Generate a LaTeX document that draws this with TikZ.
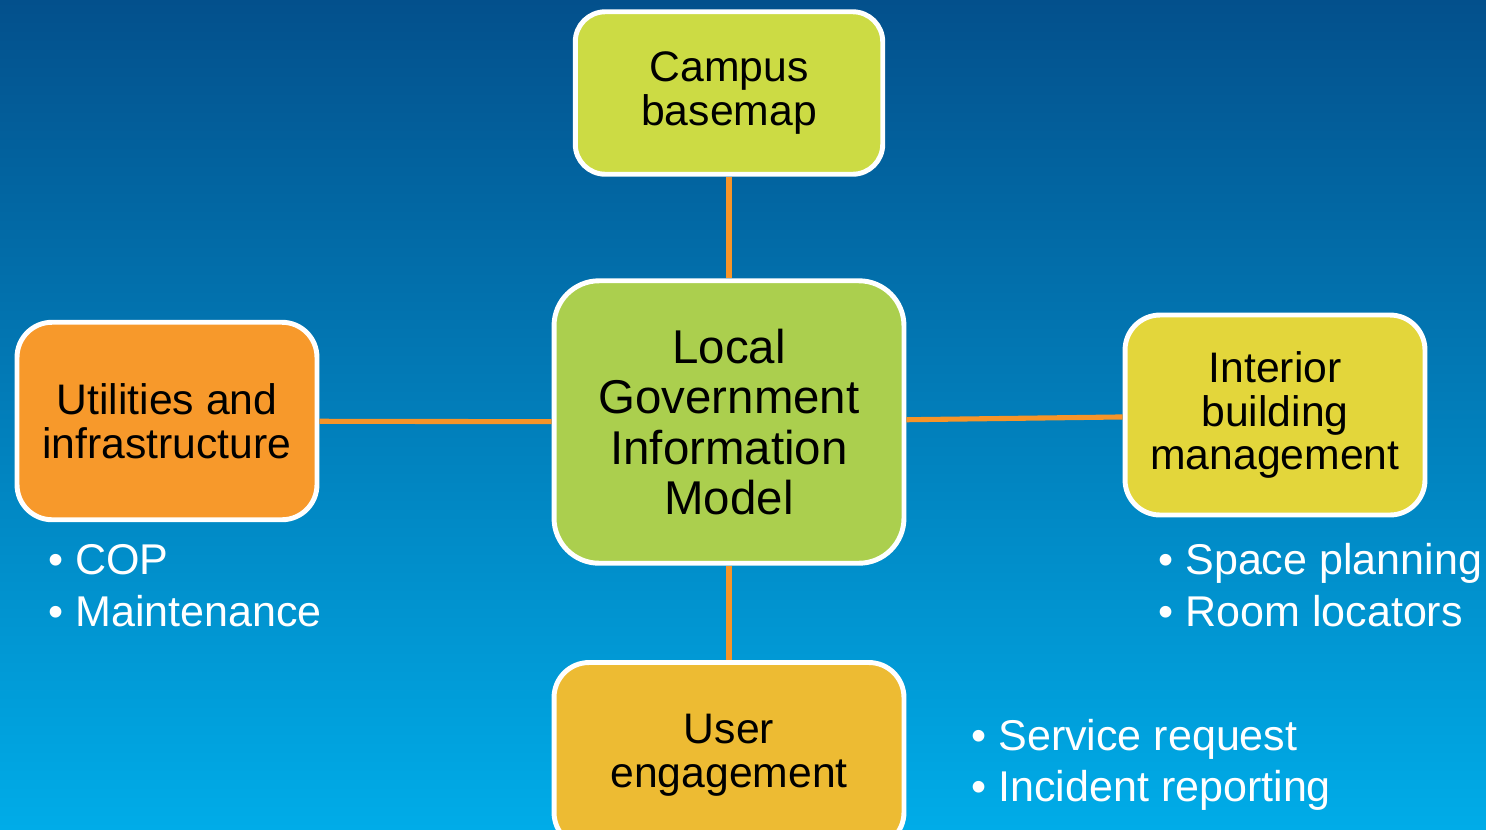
\documentclass[tikz,border=0pt]{standalone}
\usepackage{fontspec}
\setmainfont{Liberation Sans}
\definecolor{bgtop}{RGB}{3,80,140}
\definecolor{bgbot}{RGB}{0,172,232}
\definecolor{linkorange}{RGB}{247,148,40}
\definecolor{campusfill}{RGB}{204,219,68}
\definecolor{lgimfill}{RGB}{171,207,78}
\definecolor{utilfill}{RGB}{247,153,43}
\definecolor{ibmfill}{RGB}{227,214,59}
\definecolor{userfill}{RGB}{237,187,51}
\tikzset{
	box/.style={draw=white, line width=2.8pt, rounded corners=0.6cm, align=center, text=black,
		font=\fontsize{24.3}{25}\selectfont, inner sep=0pt},
	link/.style={draw=linkorange, line width=2.9pt},
	bullet/.style={anchor=base west, text=white, inner sep=0pt, font=\fontsize{24.5}{29.5}\selectfont}
}
\begin{document}
\begin{tikzpicture}[x=0.02cm,y=-0.02cm]
				\useasboundingbox (0,0) rectangle (1486,829);
				\clip (0,0) rectangle (1486,829);
				\shade [top color=bgtop, bottom color=bgbot] (0,0) rectangle (1486,829);
				% boxes
				\node [box, fill=campusfill, minimum width=6.15cm, minimum height=3.25cm] (campus) at (729,93) {Campus\\basemap};
				\node [box, fill=lgimfill, minimum width=7.0cm, minimum height=5.65cm, rounded corners=0.9cm,
					font=\fontsize{27}{28.5}\selectfont] (lgim) at (729,422) {Local\\Government\\Information\\Model};
				\node [box, fill=utilfill, minimum width=6.0cm, minimum height=3.95cm, rounded corners=0.7cm] (util) at (167,421) {Utilities and\\infrastructure};
				\node [box, fill=ibmfill, minimum width=6.0cm, minimum height=4.0cm, rounded corners=0.7cm] (ibm) at (1275,415) {Interior\\building\\management};
				\node [box, fill=userfill, minimum width=7.0cm, minimum height=3.7cm, rounded corners=0.7cm] (user) at (729,755) {User\\engagement};
				% links
				\draw [link] (campus) -- (lgim);
				\draw [link] (util) -- (lgim);
				\draw [link] (lgim) -- (ibm);
				\draw [link] (lgim) -- (user);
				% bullet lists
				\node [bullet] (cop) at (48,574) {• COP};
				\node [bullet] (maint) at (48,626) {• Maintenance};
				\node [bullet] (space) at (1158,574) {• Space planning};
				\node [bullet] (room) at (1158,626) {• Room locators};
				\node [bullet] (service) at (971,750) {• Service request};
				\node [bullet] (incident) at (971,801) {• Incident reporting};
			\end{tikzpicture}
\end{document}
